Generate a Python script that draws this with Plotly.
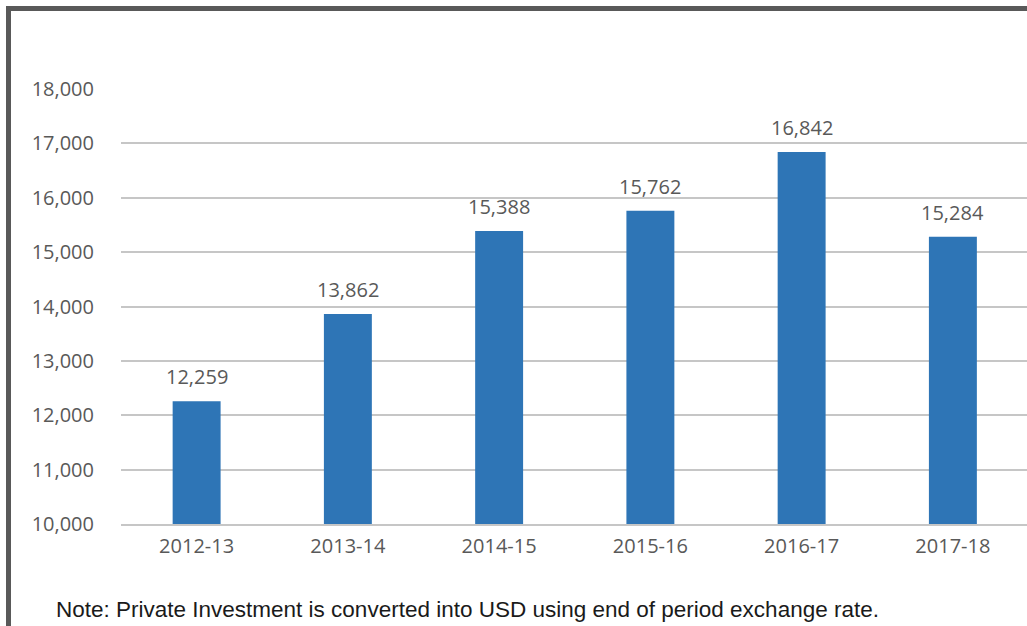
import plotly.graph_objects as go

categories = ["2012-13", "2013-14", "2014-15", "2015-16", "2016-17", "2017-18"]
values = [12259, 13862, 15388, 15762, 16842, 15284]
note_text = "Note: Private Investment is converted into USD using end of period exchange rate."
y_ticks = list(range(10000, 18001, 1000))

W, H = 1027, 626
L, R, T, B = 121, 0, 89, 102
PW, PH = W - L - R, H - T - B


def px(x):
    return (x - L) / PW


def py(y):
    return (H - B - y) / PH


BLUE = "#2E75B6"
GRID = "#c6c6c6"
TXT = "#595959"
FONT = "Open Sans"

fig = go.Figure()
fig.add_trace(go.Bar(x=categories, y=values, marker=dict(color=BLUE, line=dict(width=0)),
                     hoverinfo="skip"))

for c, v in zip(categories, values):
    fig.add_annotation(x=c, y=v, text=f"{v:,}", showarrow=False, xref="x", yref="y",
                       yanchor="bottom", yshift=9,
                       font=dict(family=FONT, size=20, color=TXT))

fig.add_annotation(x=px(54), y=py(609), xref="paper", yref="paper", xanchor="left",
                   yanchor="middle", text=note_text, showarrow=False,
                   font=dict(family="Liberation Sans, Arial", size=22.5, color="#1a1a1a"))

border = "#595959"
fig.add_shape(type="line", xref="paper", yref="paper", x0=px(6), x1=px(1040),
              y0=py(8.5), y1=py(8.5), line=dict(color=border, width=5))
fig.add_shape(type="line", xref="paper", yref="paper", x0=px(8.5), x1=px(8.5),
              y0=py(6), y1=py(640), line=dict(color=border, width=5))

fig.update_layout(
    width=W, height=H,
    margin=dict(l=L, r=R, t=T, b=B, pad=0),
    paper_bgcolor="white", plot_bgcolor="white",
    bargap=0.683,
    showlegend=False,
    font=dict(family=FONT, color=TXT),
    xaxis=dict(range=[-0.5, 5.49], showgrid=False, showline=True, linecolor=GRID, linewidth=2,
               ticks="outside", ticklen=3, tickcolor="rgba(0,0,0,0)",
               tickfont=dict(family=FONT, size=20, color=TXT)),
    yaxis=dict(range=[10000, 18000], tickvals=y_ticks, tickformat=",", showgrid=True,
               gridcolor=GRID, gridwidth=1.5, zeroline=False, showline=False,
               ticks="outside", ticklen=22, tickcolor="rgba(0,0,0,0)",
               tickfont=dict(family=FONT, size=20, color=TXT)),
)

fig.write_html("out.html", config={"displayModeBar": False},
               post_script="document.body.style.margin='0';document.body.style.overflow='hidden';")
